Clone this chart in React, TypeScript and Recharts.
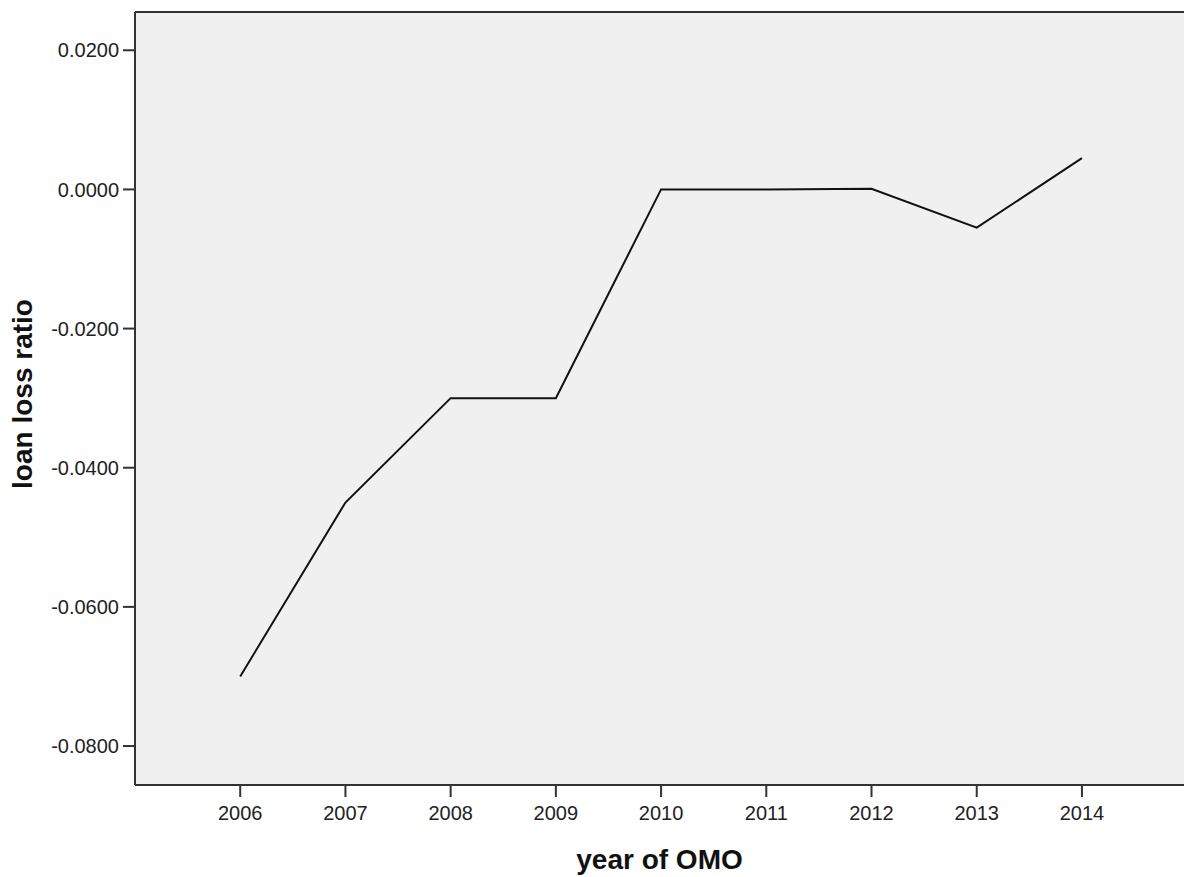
import React from 'react';
import { LineChart, Line, XAxis, YAxis, CartesianGrid, ReferenceLine } from 'recharts';

const years = [2006, 2007, 2008, 2009, 2010, 2011, 2012, 2013, 2014];
const loanLossRatio = [-0.07, -0.045, -0.03, -0.03, 0.0, 0.0, 0.0001, -0.0055, 0.0045];
const yTicks = [-0.08, -0.06, -0.04, -0.02, 0, 0.02];

const data = years.map((year, i) => ({ year, ratio: loanLossRatio[i] }));

const FONT = '"Liberation Sans", Arial, sans-serif';
const AXIS = '#333333';
const Y_MAX = 0.0255;

// rotated y axis title, placed like the SPSS output
const YTitle = () => (
  <text
    x={32}
    y={394}
    transform="rotate(-90 32 394)"
    textAnchor="middle"
    fontSize={28}
    fontWeight="bold"
    fill="#111"
    fontFamily={FONT}
  >
    loan loss ratio
  </text>
);

export default function App() {
  return (
    <div style={{ position: 'absolute', left: 0, top: 0, width: 1184, height: 877, background: '#fff', overflow: 'hidden' }}>
      <style>{'body{margin:0;overflow:hidden}'}</style>
      <LineChart
        width={1184}
        height={877}
        data={data}
        margin={{ top: 12, right: 0, left: 0, bottom: 0 }}
      >
        <CartesianGrid fill="#F0F0F0" horizontal={false} vertical={false} />
        <XAxis
          dataKey="year"
          type="number"
          domain={[2005, 2014.97]}
          ticks={years}
          allowDataOverflow
          height={92}
          stroke={AXIS}
          strokeWidth={2}
          tickSize={12}
          tickLine={{ stroke: AXIS, strokeWidth: 2 }}
          tick={{ fontSize: 20, fill: '#222', fontFamily: FONT }}
          tickMargin={9}
          label={{
            value: 'year of OMO',
            position: 'insideBottom',
            offset: 8,
            style: { fontSize: 28, fontWeight: 'bold', fill: '#111', fontFamily: FONT },
          }}
        />
        <YAxis
          type="number"
          domain={[-0.0856, Y_MAX]}
          ticks={yTicks}
          allowDataOverflow
          width={135}
          stroke={AXIS}
          strokeWidth={2}
          tickSize={12}
          tickLine={{ stroke: AXIS, strokeWidth: 2 }}
          tickFormatter={(v: number) => v.toFixed(4)}
          tick={{ fontSize: 20, fill: '#222', fontFamily: FONT }}
          tickMargin={4}
          label={<YTitle />}
        />
        <ReferenceLine y={Y_MAX} stroke={AXIS} strokeWidth={2} />
        <Line
          type="linear"
          dataKey="ratio"
          stroke="#111"
          strokeWidth={2}
          dot={false}
          isAnimationActive={false}
        />
      </LineChart>
    </div>
  );
}
